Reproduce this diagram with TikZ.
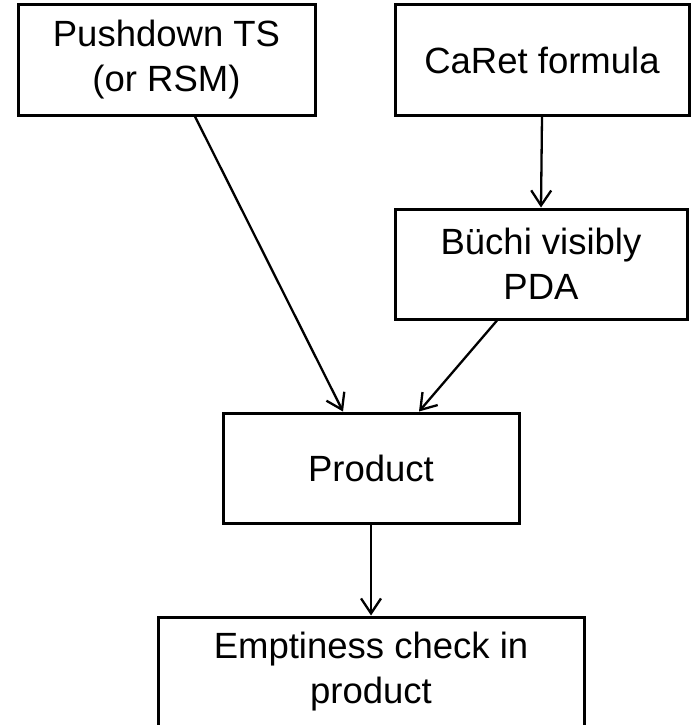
\documentclass[tikz,border=0pt]{standalone}
\usepackage{fontspec}
\setmainfont{Liberation Sans}
\usetikzlibrary{arrows.meta}

\begin{document}
\begin{tikzpicture}[x=1pt, y=-1pt,
  stagebox/.style={draw=black, line width=3pt, fill=white, align=center,
    inner sep=0pt, minimum height=110pt,
    font=\fontsize{36.5}{45}\selectfont},
  flow/.style={draw=black, line width=2.3pt,
    -{Straight Barb[length=15pt, width=20pt, line width=2.3pt]}}]
  \useasboundingbox (0,0) rectangle (694,725);

  % stages of the model-checking pipeline
  \node[stagebox, minimum width=297pt] (pds)   at (166.5,60) {Pushdown TS\\(or RSM)};
  \node[stagebox, minimum width=294pt] (caret) at (542,60)   {CaRet formula};
  \node[stagebox, minimum width=292pt] (bvpa)  at (541,264)  {Büchi visibly\\PDA};
  \node[stagebox, minimum width=296pt] (prod)  at (371,468)  {Product};
  \node[stagebox, minimum width=426pt] (empty) at (371,672)  {Emptiness check in\\product};

  % data flow between stages
  \draw[flow] ([xshift=28.5pt]pds.south) -- ([xshift=-28pt]prod.north);
  \draw[flow] (caret.south) -- (bvpa.north);
  \draw[flow] ([xshift=-44pt]bvpa.south) -- ([xshift=48pt]prod.north);
  \draw[flow] (prod.south) -- (empty.north);
\end{tikzpicture}
\end{document}
